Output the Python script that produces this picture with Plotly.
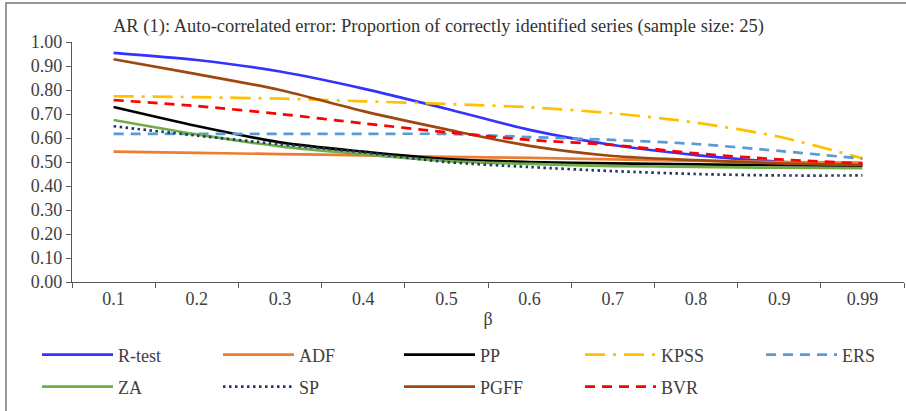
import plotly.graph_objects as go

beta = ["0.1", "0.2", "0.3", "0.4", "0.5", "0.6", "0.7", "0.8", "0.9", "0.99"]
r_test = [0.955, 0.925, 0.877, 0.806, 0.722, 0.634, 0.571, 0.529, 0.501, 0.490]
adf = [0.543, 0.538, 0.533, 0.528, 0.521, 0.517, 0.511, 0.505, 0.500, 0.497]
pp = [0.729, 0.650, 0.582, 0.543, 0.512, 0.500, 0.494, 0.490, 0.487, 0.485]
kpss = [0.774, 0.770, 0.764, 0.753, 0.742, 0.728, 0.703, 0.664, 0.605, 0.515]
ers = [0.617, 0.617, 0.617, 0.617, 0.617, 0.604, 0.592, 0.575, 0.546, 0.514]
za = [0.675, 0.615, 0.565, 0.532, 0.504, 0.492, 0.483, 0.480, 0.476, 0.474]
sp = [0.649, 0.610, 0.574, 0.540, 0.500, 0.479, 0.462, 0.450, 0.444, 0.444]
pgff = [0.928, 0.866, 0.800, 0.712, 0.636, 0.567, 0.525, 0.508, 0.494, 0.487]
bvr = [0.758, 0.733, 0.700, 0.661, 0.624, 0.592, 0.571, 0.536, 0.511, 0.494]

series = [
    ("R-test", r_test, "#3333FF", "solid", "legend"),
    ("ADF", adf, "#ED7D31", "solid", "legend"),
    ("PP", pp, "#000000", "solid", "legend"),
    ("KPSS", kpss, "#FFC000", "20px,8px,3px,8px", "legend"),
    ("ERS", ers, "#5B9BD5", "10px,7px", "legend3"),
    ("ZA", za, "#70AD47", "solid", "legend2"),
    ("SP", sp, "#203864", "2.5px,3.5px", "legend2"),
    ("PGFF", pgff, "#9E480E", "solid", "legend2"),
    ("BVR", bvr, "#FF0000", "10px,7px", "legend2"),
]

FONT = "Liberation Serif"
TXT = "#404040"
FS = 18

fig = go.Figure()
for name, vals, color, dash, leg in series:
    fig.add_trace(go.Scatter(
        x=beta, y=vals, name=name, mode="lines",
        line=dict(color=color, width=2.7, dash=dash, shape="spline", smoothing=0.8),
        legend=leg,
    ))

W, H = 906, 411
L, R, T, B = 72, 2, 42, 129
pw = W - L - R
ph = H - T - B

def px_x(p):
    return (p - L) / pw

def px_y(p):
    return (H - B - p) / ph

legend_common = dict(
    orientation="h", xref="paper", yref="paper", xanchor="left", yanchor="middle",
    font=dict(family=FONT, size=FS, color=TXT), bgcolor="rgba(0,0,0,0)",
    itemwidth=71, entrywidth=95, itemclick=False, traceorder="normal",
)

fig.update_layout(
    width=W, height=H,
    margin=dict(l=L, r=R, t=T, b=B, autoexpand=False),
    paper_bgcolor="white", plot_bgcolor="white",
    font=dict(family=FONT, size=FS, color=TXT),
    xaxis=dict(
        type="category", range=[-0.5, 9.5], tickson="boundaries",
        ticks="outside", ticklen=5, tickwidth=1.3, tickcolor="#595959",
        showline=True, linecolor="#595959", linewidth=1.3,
        showgrid=False, zeroline=False,
        tickfont=dict(family=FONT, size=FS, color=TXT),
        title=dict(text="β", font=dict(family=FONT, size=FS, color=TXT), standoff=4),
    ),
    yaxis=dict(
        range=[0, 1], dtick=0.1, tick0=0, tickformat=".2f",
        ticks="outside", ticklen=5, tickwidth=1.3, tickcolor="#595959",
        showline=True, linecolor="#595959", linewidth=1.3,
        showgrid=False, zeroline=False,
        tickfont=dict(family=FONT, size=FS, color=TXT),
    ),
    legend=dict(legend_common, x=px_x(37), y=px_y(355)),
    legend3=dict(legend_common, x=px_x(37 + 4 * 181), y=px_y(355)),
    legend2=dict(legend_common, x=px_x(37), y=px_y(387)),
    annotations=[dict(
        text="AR (1): Auto-correlated error: Proportion of correctly identified series (sample size: 25)",
        xref="paper", yref="paper", x=px_x(111), y=px_y(26),
        xanchor="left", yanchor="middle", showarrow=False,
        font=dict(family=FONT, size=18.5, color="#333333"),
    )],
    shapes=[dict(
        type="rect", xref="paper", yref="paper",
        x0=px_x(6), x1=px_x(940), y0=px_y(450), y1=px_y(3),
        line=dict(color="#767676", width=1.5), fillcolor="rgba(0,0,0,0)", layer="below",
    )],
)

fig.write_html(
    "out.html",
    config={"displayModeBar": False},
    post_script="document.body.style.margin='0';document.body.style.overflow='hidden';",
)
